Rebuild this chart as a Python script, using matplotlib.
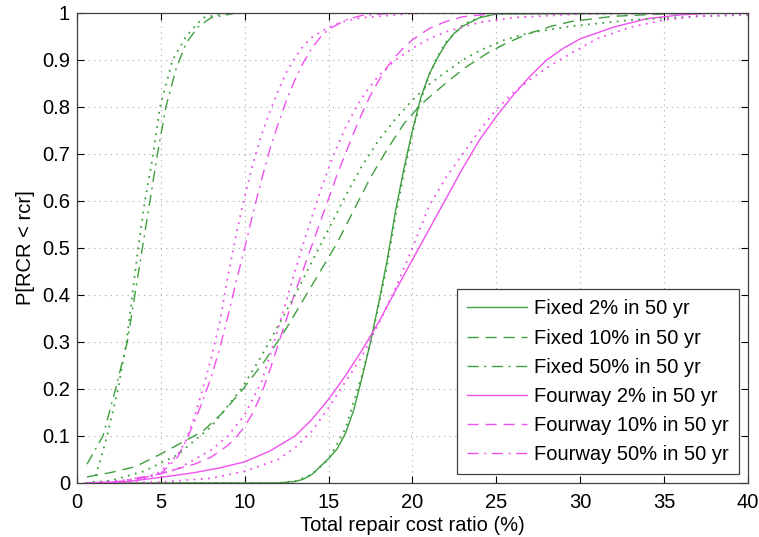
import matplotlib
matplotlib.use('Agg')
import matplotlib.pyplot as plt

plt.rcParams['font.family'] = ['Liberation Sans', 'DejaVu Sans']

verde = '#3f9f3f'
magenta = '#f050f0'

# Fixed, curvas empiricas
fix2_x = [0.5, 12.0, 13.0, 13.5, 14.0, 14.5, 15.0, 15.5, 16.0, 16.5, 17.0, 17.5, 18.0, 18.5, 19.0, 19.5, 20.0, 20.5, 21.0, 21.5, 22.0, 22.5, 23.0, 24.0, 25.0, 40.0]
fix2_y = [0.0, 0.0, 0.003, 0.008, 0.018, 0.035, 0.052, 0.072, 0.105, 0.155, 0.225, 0.3, 0.385, 0.475, 0.58, 0.67, 0.75, 0.82, 0.87, 0.905, 0.935, 0.957, 0.972, 0.99, 0.998, 1.0]
fix10_x = [0.6, 2.0, 3.5, 4.9, 6.2, 7.5, 8.7, 9.9, 11.2, 12.5, 13.5, 14.5, 15.5, 16.5, 17.5, 18.5, 19.5, 20.5, 21.3, 22.2, 23.2, 24.4, 25.6, 27.0, 28.3, 29.5, 32.0, 35.0, 40.0]
fix10_y = [0.013, 0.022, 0.035, 0.06, 0.085, 0.11, 0.15, 0.2, 0.26, 0.33, 0.39, 0.45, 0.51, 0.58, 0.65, 0.71, 0.765, 0.805, 0.83, 0.857, 0.885, 0.913, 0.936, 0.957, 0.972, 0.982, 0.993, 0.998, 1.0]
fix50_x = [0.6, 1.55, 2.3, 3.0, 3.45, 3.9, 4.35, 4.8, 5.3, 5.9, 6.5, 7.2, 8.0, 9.5, 40.0]
fix50_y = [0.04, 0.1, 0.2, 0.3, 0.4, 0.5, 0.6, 0.7, 0.8, 0.88, 0.935, 0.97, 0.99, 1.0, 1.0]

# Fixed, ajustes (pontilhado)
fix2f_x = [0.5, 12.0, 13.0, 14.0, 15.0, 16.0, 17.0, 17.5, 18.0, 18.5, 19.0, 19.5, 20.0, 20.5, 21.0, 21.5, 22.0, 23.0, 24.0, 25.0, 40.0]
fix2f_y = [0.0, 0.0, 0.004, 0.018, 0.05, 0.115, 0.23, 0.3, 0.38, 0.465, 0.57, 0.66, 0.745, 0.815, 0.868, 0.908, 0.938, 0.975, 0.991, 0.998, 1.0]
fix10f_x = [0.5, 2.0, 4.0, 6.0, 8.0, 9.8, 11.0, 12.0, 13.0, 14.0, 15.0, 16.0, 17.0, 18.0, 19.0, 20.0, 21.0, 22.0, 23.0, 24.0, 25.5, 27.0, 29.5, 33.0, 37.0, 40.0]
fix10f_y = [0.0, 0.005, 0.025, 0.06, 0.12, 0.2, 0.27, 0.335, 0.4, 0.47, 0.54, 0.61, 0.675, 0.73, 0.775, 0.815, 0.848, 0.875, 0.9, 0.92, 0.943, 0.958, 0.972, 0.985, 0.993, 0.996]
fix50f_x = [1.0, 1.8, 2.45, 2.95, 3.3, 3.65, 4.05, 4.55, 4.95, 5.7, 6.5, 7.5, 9.0, 40.0]
fix50f_y = [0.0, 0.1, 0.2, 0.3, 0.4, 0.5, 0.6, 0.7, 0.8, 0.9, 0.95, 0.99, 1.0, 1.0]

# Fourway, curvas empiricas
four2_x = [0.5, 3.0, 5.0, 7.0, 8.5, 10.0, 11.5, 13.0, 14.0, 15.0, 16.0, 17.0, 18.0, 19.0, 20.0, 21.0, 22.0, 23.0, 24.0, 25.0, 26.0, 27.0, 28.0, 29.0, 30.0, 32.0, 34.0, 36.0, 38.0, 40.0]
four2_y = [0.0, 0.003, 0.012, 0.022, 0.032, 0.045, 0.068, 0.1, 0.135, 0.178, 0.228, 0.283, 0.343, 0.41, 0.475, 0.54, 0.605, 0.67, 0.73, 0.78, 0.825, 0.865, 0.9, 0.925, 0.945, 0.97, 0.988, 0.996, 1.0, 1.0]
four10_x = [2.6, 5.0, 7.0, 8.0, 9.0, 9.5, 10.0, 10.5, 11.0, 11.5, 12.0, 12.5, 13.0, 13.5, 14.0, 14.5, 15.0, 15.5, 16.0, 16.5, 17.0, 17.5, 18.0, 18.5, 19.0, 19.5, 20.0, 21.0, 22.0, 23.0, 25.0, 40.0]
four10_y = [0.0, 0.02, 0.04, 0.055, 0.08, 0.098, 0.12, 0.15, 0.19, 0.24, 0.295, 0.35, 0.405, 0.455, 0.505, 0.555, 0.605, 0.655, 0.7, 0.745, 0.787, 0.825, 0.857, 0.885, 0.908, 0.927, 0.943, 0.967, 0.982, 0.992, 0.999, 1.0]
four50_x = [2.0, 5.0, 6.0, 6.5, 7.0, 7.5, 8.0, 8.5, 9.0, 9.5, 10.0, 10.5, 11.0, 11.5, 12.0, 12.5, 13.0, 13.5, 14.0, 14.5, 15.0, 16.0, 17.0, 19.0, 40.0]
four50_y = [0.0, 0.02, 0.055, 0.09, 0.13, 0.175, 0.225, 0.285, 0.355, 0.43, 0.5, 0.575, 0.645, 0.71, 0.765, 0.815, 0.858, 0.895, 0.925, 0.948, 0.965, 0.985, 0.995, 1.0, 1.0]

# Fourway, ajustes (pontilhado)
four2f_x = [0.5, 5.0, 8.0, 10.0, 12.0, 13.0, 14.0, 15.0, 16.0, 17.0, 18.0, 19.0, 20.0, 21.0, 22.0, 23.0, 24.0, 25.0, 26.0, 27.0, 28.0, 29.0, 30.0, 31.0, 33.0, 35.0, 37.0, 40.0]
four2f_y = [0.0, 0.002, 0.01, 0.025, 0.05, 0.075, 0.11, 0.16, 0.215, 0.27, 0.34, 0.415, 0.5, 0.59, 0.65, 0.7, 0.75, 0.795, 0.83, 0.858, 0.883, 0.905, 0.925, 0.945, 0.97, 0.985, 0.993, 0.997]
four10f_x = [1.0, 4.0, 6.0, 8.0, 9.0, 10.0, 11.0, 11.5, 12.0, 12.5, 13.0, 13.5, 14.0, 14.5, 15.0, 15.5, 16.0, 16.5, 17.0, 17.5, 18.0, 19.0, 20.0, 21.0, 22.0, 24.0, 26.0, 30.0, 40.0]
four10f_y = [0.0, 0.01, 0.03, 0.07, 0.1, 0.145, 0.215, 0.27, 0.33, 0.39, 0.45, 0.51, 0.565, 0.62, 0.67, 0.715, 0.755, 0.79, 0.82, 0.845, 0.867, 0.9, 0.925, 0.945, 0.96, 0.98, 0.99, 0.998, 1.0]
four50f_x = [1.0, 4.0, 5.0, 6.0, 6.5, 7.0, 7.5, 8.0, 8.5, 9.0, 9.5, 10.0, 10.5, 11.0, 11.5, 12.0, 12.5, 13.0, 13.5, 14.0, 15.0, 16.0, 17.0, 20.0, 40.0]
four50f_y = [0.0, 0.008, 0.025, 0.06, 0.09, 0.14, 0.2, 0.265, 0.34, 0.44, 0.53, 0.61, 0.68, 0.74, 0.79, 0.835, 0.875, 0.905, 0.93, 0.948, 0.97, 0.983, 0.99, 0.999, 1.0]

legendas = ['Fixed 2% in 50 yr', 'Fixed 10% in 50 yr', 'Fixed 50% in 50 yr',
            'Fourway 2% in 50 yr', 'Fourway 10% in 50 yr', 'Fourway 50% in 50 yr']
x_ticks = [0, 5, 10, 15, 20, 25, 30, 35, 40]
y_ticks = [0, 0.1, 0.2, 0.3, 0.4, 0.5, 0.6, 0.7, 0.8, 0.9, 1.0]
y_labels = ['0', '0.1', '0.2', '0.3', '0.4', '0.5', '0.6', '0.7', '0.8', '0.9', '1']

tracejado = (0, (8, 5))
traco_ponto = (0, (8, 4, 1.5, 4))
pontilhado = (0, (1, 3))
fs = 14.5

fig = plt.figure(figsize=(7.59, 5.37), dpi=100)
ax = fig.add_axes([0.1014, 0.1006, 0.8840, 0.8752])

lw = 1.0
ax.plot(fix2_x, fix2_y, color=verde, linewidth=lw, linestyle='-', label=legendas[0])
ax.plot(fix10_x, fix10_y, color=verde, linewidth=lw, linestyle=tracejado, label=legendas[1])
ax.plot(fix50_x, fix50_y, color=verde, linewidth=lw, linestyle=traco_ponto, label=legendas[2])
ax.plot(four2_x, four2_y, color=magenta, linewidth=lw, linestyle='-', label=legendas[3])
ax.plot(four10_x, four10_y, color=magenta, linewidth=lw, linestyle=tracejado, label=legendas[4])
ax.plot(four50_x, four50_y, color=magenta, linewidth=lw, linestyle=traco_ponto, label=legendas[5])

for xs, ys, c in [(fix2f_x, fix2f_y, verde), (fix10f_x, fix10f_y, verde), (fix50f_x, fix50f_y, verde),
                  (four2f_x, four2f_y, magenta), (four10f_x, four10f_y, magenta), (four50f_x, four50f_y, magenta)]:
    ax.plot(xs, ys, color=c, linewidth=1.3, linestyle=pontilhado)

ax.set_xlim(0, 40)
ax.set_ylim(0, 1)
ax.set_xticks(x_ticks)
ax.set_yticks(y_ticks)
ax.set_yticklabels(y_labels)
ax.tick_params(axis='both', direction='in', length=5, top=True, right=True, labelsize=fs, pad=7)
ax.tick_params(axis='y', pad=5)
ax.grid(True, color='#a8a8a8', linestyle=(0, (1, 4)), linewidth=0.8)
for s in ax.spines.values():
    s.set_color('#404040')
    s.set_linewidth(0.9)

ax.set_xlabel('Total repair cost ratio (%)', fontsize=fs, labelpad=3)
ax.set_ylabel('P[RCR < rcr]', fontsize=fs, labelpad=5)

leg = ax.legend(loc='lower right', fontsize=fs, handlelength=3.0, fancybox=False,
                framealpha=1, edgecolor='#404040', borderaxespad=0.45,
                labelspacing=0.5, handletextpad=0.35, borderpad=0.5)
leg.get_frame().set_linewidth(0.9)

plt.savefig('out.png', dpi=100)
